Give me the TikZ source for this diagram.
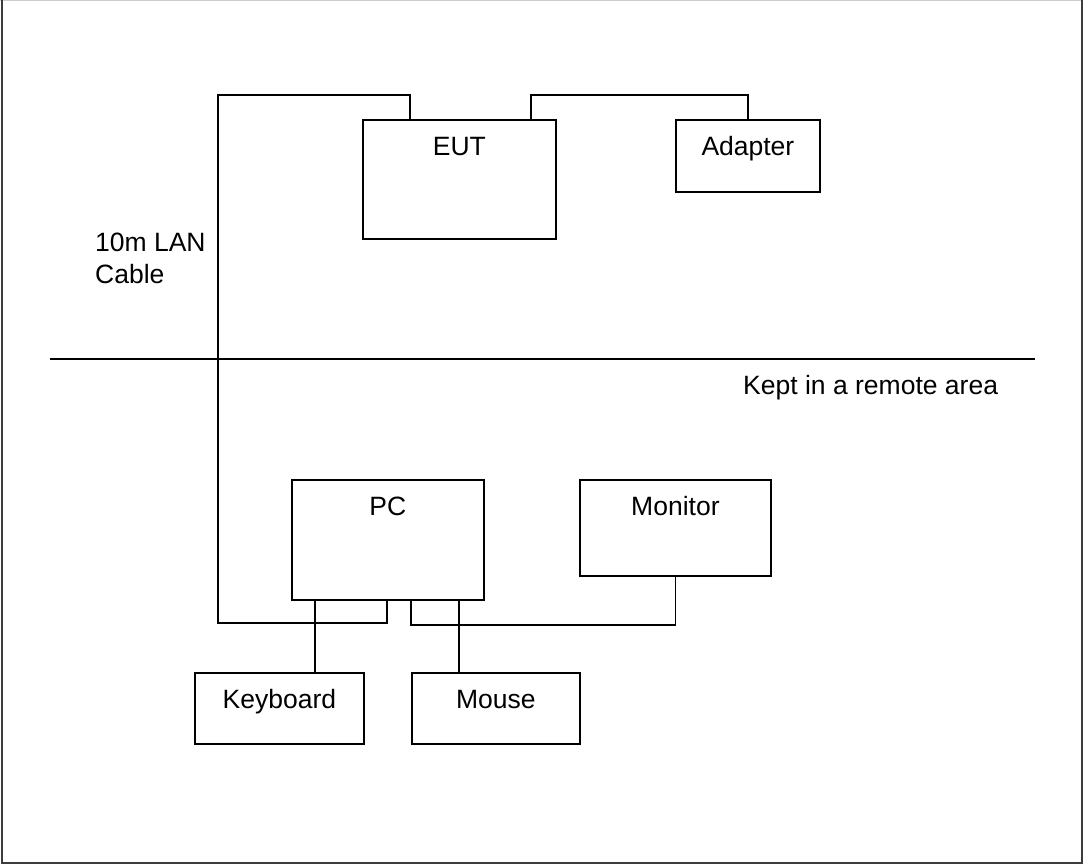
\documentclass[tikz,border=0pt]{standalone}
\usepackage{fontspec}
\setmainfont{Liberation Sans}
\usetikzlibrary{positioning}
\definecolor{frameline}{RGB}{60, 60, 60}
\definecolor{frametop}{RGB}{205, 205, 205}

\begin{document}
\begin{tikzpicture}[x=1pt, y=-1pt, font=\fontsize{26.5}{32}\selectfont,
        wire/.style={draw=black, line width=1.8pt},
        unit/.style={rectangle, draw=black, line width=1.8pt, fill=white, inner sep=0pt,
                     anchor=north west, align=center, text height=36pt}
    ]
        \useasboundingbox (0,0) rectangle (1083,864);
        \draw[frametop, line width=1pt] (0,0.5) -- (1083,0.5);
        \draw[frameline, line width=2pt] (2,0) -- (2,862.5) -- (1082,862.5) -- (1082,0);

        \node[unit, minimum width=193pt, text depth=83pt] (eut)      at (362,119) {EUT};
        \node[unit, minimum width=144pt, text depth=36pt] (adapter)  at (675,119) {Adapter};
        \node[unit, minimum width=192pt, text depth=84pt] (pc)       at (291,479) {PC};
        \node[unit, minimum width=191pt, text depth=60pt] (monitor)  at (579,479) {Monitor};
        \node[unit, minimum width=169pt, text depth=35pt] (keyboard) at (194,672) {Keyboard};
        \node[unit, minimum width=168pt, text depth=35pt] (mouse)    at (411,672) {Mouse};

        \node[anchor=north west, align=left, inner sep=0pt] (lan) at (95,233) {10m LAN\\Cable};
        \node[anchor=base west, inner sep=0pt] (remote) at (743,394) {Kept in a remote area};

        \coordinate (lanTop) at (218,95);
        \coordinate (lanLow) at (218,623);
        \coordinate (areaL) at (50,359);
        \coordinate (areaR) at (1035,359);

        \draw[wire] (areaL) -- (areaR);
        \draw[wire] ([xshift=48pt]eut.north west) |- (lanTop) -- (lanLow) -| ([xshift=96pt]pc.south west);
        \draw[wire] ([xshift=169pt]eut.north west) -- ++(0,-24) -| (adapter.north);
        \draw[wire] ([xshift=120pt]pc.south west) -- ++(0,24) -| (monitor.south);
        \foreach \s/\d in {24/keyboard, 168/mouse}
            \draw[wire] ([xshift=\s pt]pc.south west) coordinate (tap) -- (tap |- \d.north);
    \end{tikzpicture}
\end{document}
